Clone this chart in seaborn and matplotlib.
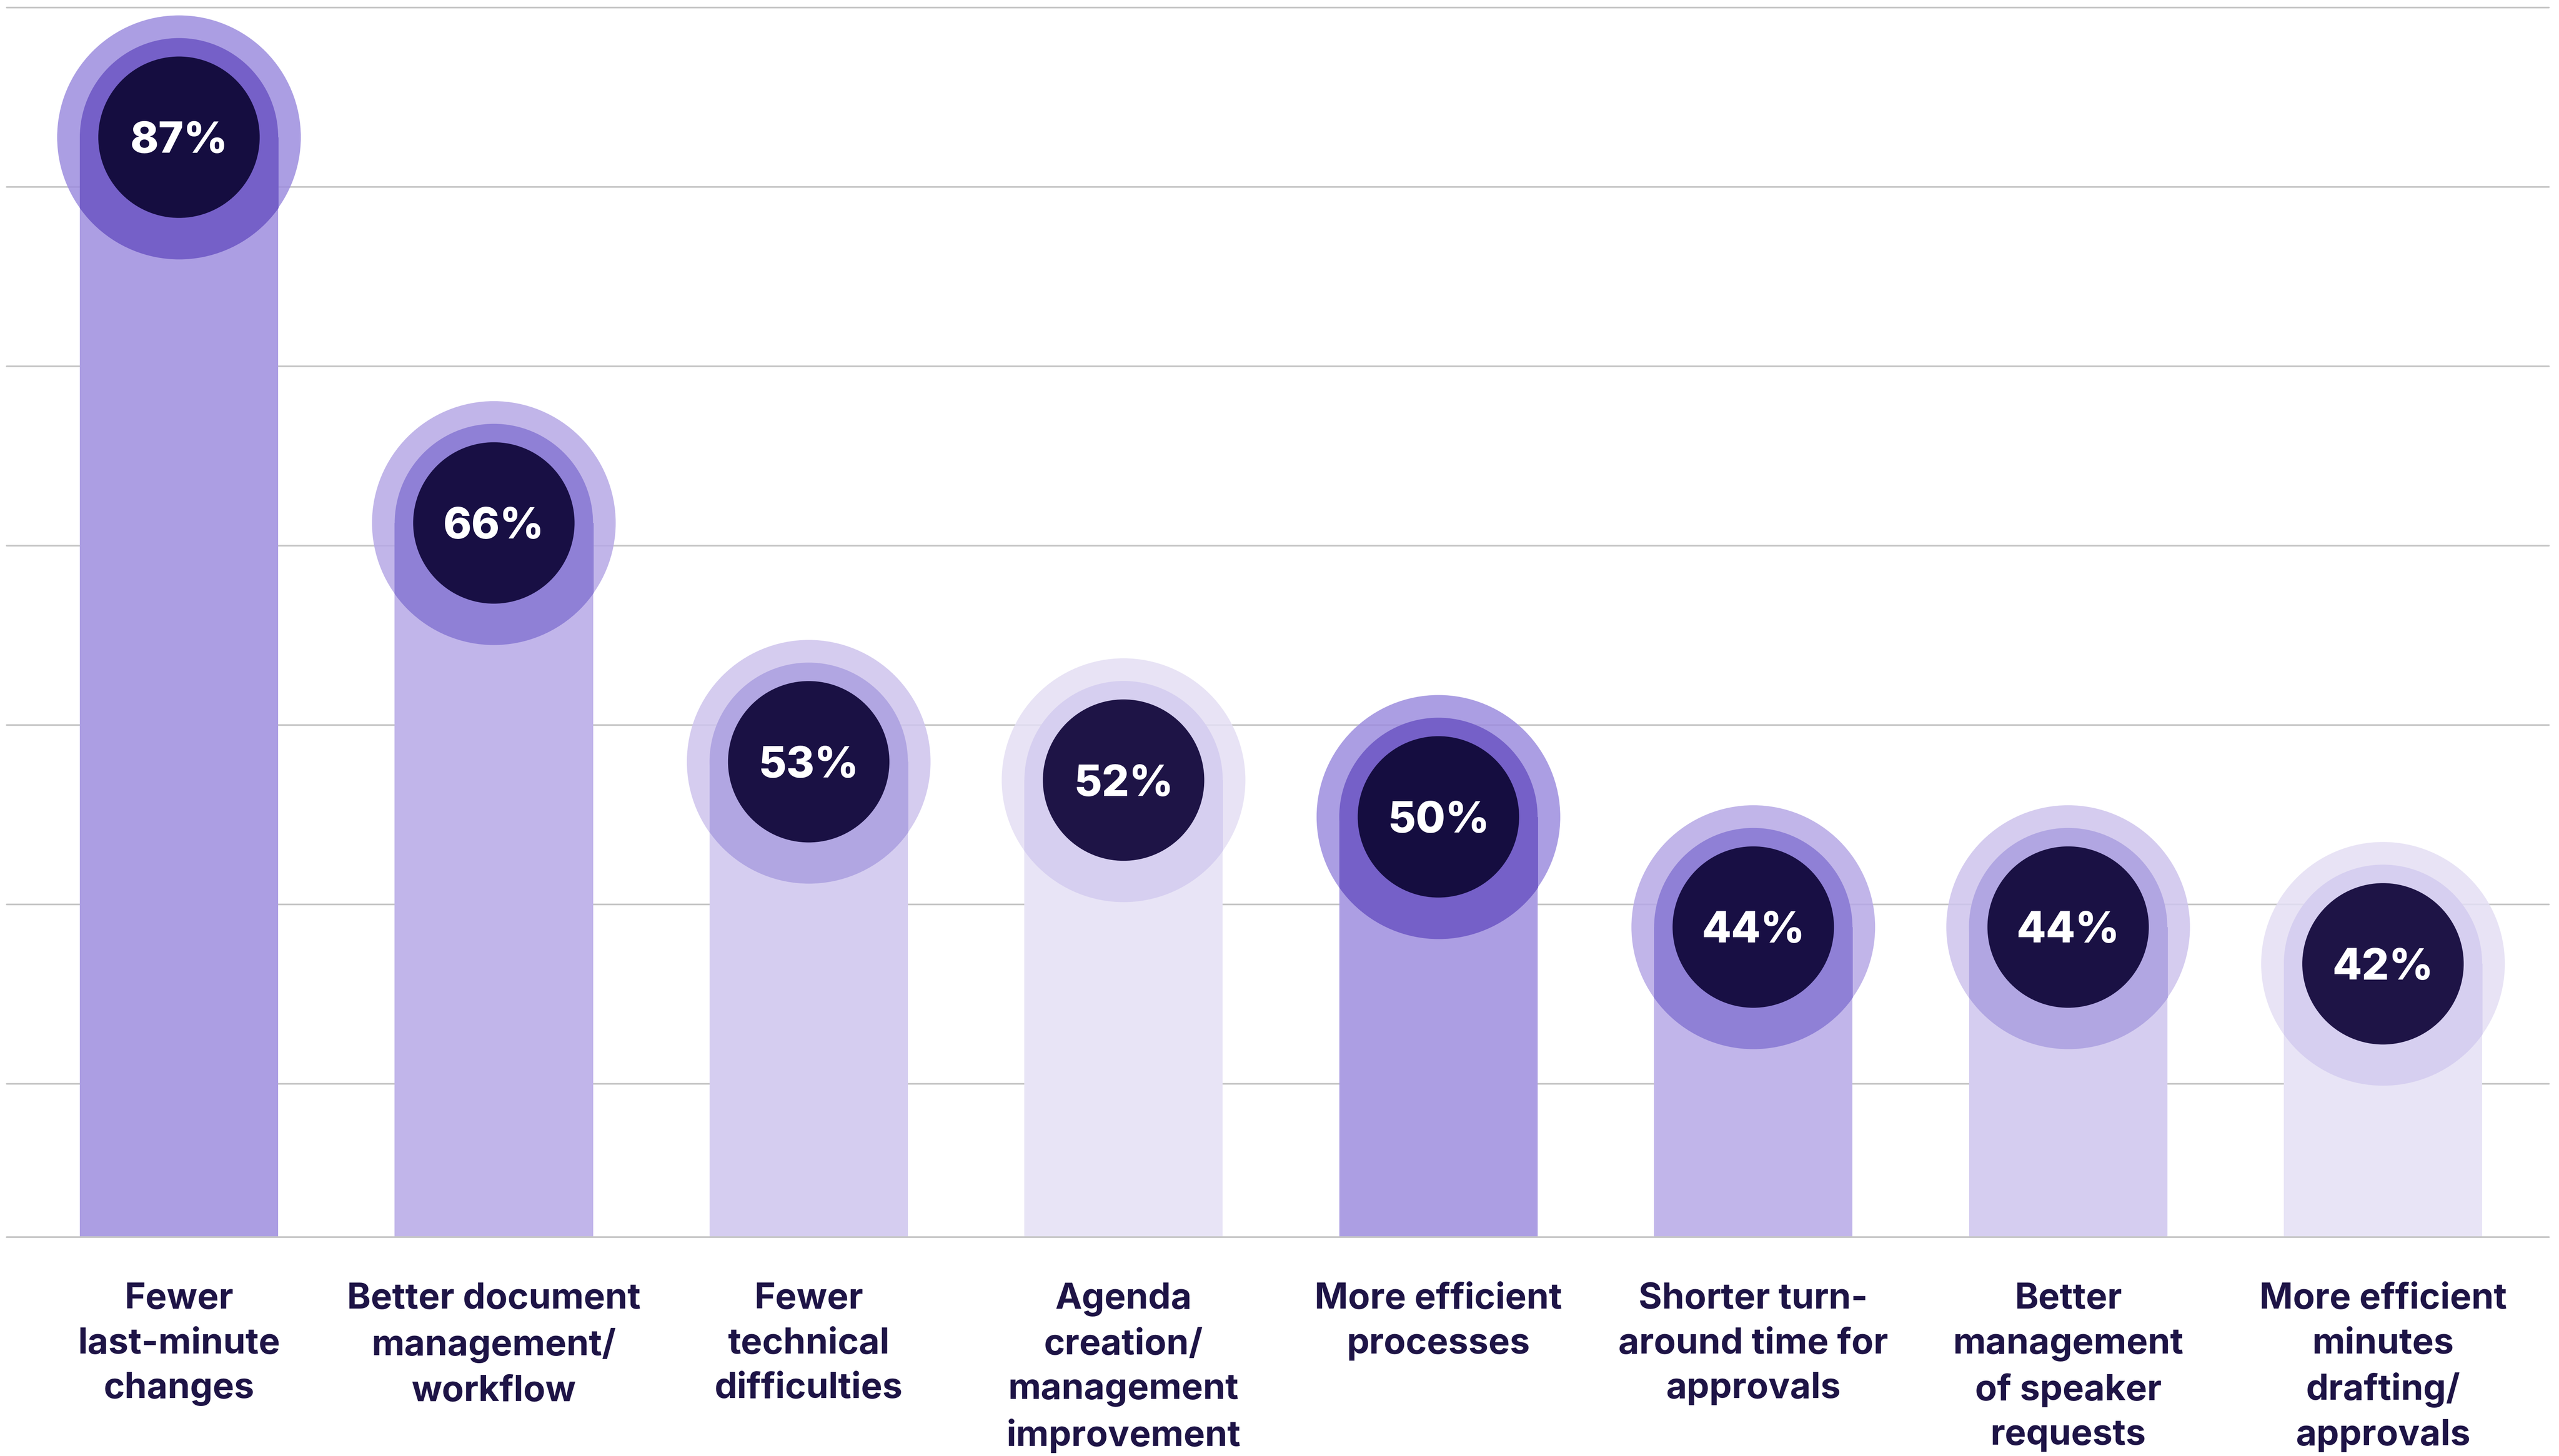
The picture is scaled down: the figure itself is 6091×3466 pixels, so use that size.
import numpy as np
import pandas as pd
import matplotlib
matplotlib.use("Agg")
import matplotlib.pyplot as plt
from matplotlib import colors as mcolors
import seaborn as sns

# ---- data -------------------------------------------------------------
categories = [
    "Fewer\nlast-minute\nchanges",
    "Better document\nmanagement/\nworkflow",
    "Fewer\ntechnical\ndifficulties",
    "Agenda\ncreation/\nmanagement\nimprovement",
    "More efficient\nprocesses",
    "Shorter turn-\naround time for\napprovals",
    "Better\nmanagement\nof speaker\nrequests",
    "More efficient\nminutes\ndrafting/\napprovals",
]
values = [87, 66, 53, 52, 50, 44, 44, 42]

# value axis window and reference lines (percent)
y_window = (27.12, 94.47)
grid_levels = [35.47, 45.23, 55.0, 64.76, 74.52, 84.29, 94.05]

# four shade families, repeated across the eight bars
bar_colors = ["#ac9ee3", "#c1b5ea", "#d5cdf0", "#e8e4f6"] * 2
ring_colors = ["#7560c8", "#8f80d6", "#b1a6e2", "#d6cff0"] * 2
core_colors = ["#150d40", "#180f44", "#1a1144", "#1e1446"] * 2

NAVY = "#1e1446"
GRID = "#c6c6c6"

# ---- style --------------------------------------------------------------
sns.set_style("white")
plt.rcParams["font.family"] = ["Inter", "DejaVu Sans"]

W, H, DPI = 6091, 3466, 300
fig = plt.figure(figsize=(W / DPI, H / DPI), dpi=DPI)
ax = fig.add_axes([0, 1 - 2945 / H, 1, 2945 / H])

df = pd.DataFrame({"category": categories, "value": values})
pos = np.arange(len(categories))


def tinted(hex_color, alpha):
    """Colour that, laid over white with the given alpha, shows hex_color."""
    rgb = np.array(mcolors.to_rgb(hex_color))
    return tuple(np.clip((rgb - (1 - alpha)) / alpha, 0, 1))


# horizontal reference lines
for g in grid_levels:
    ax.axhline(g, xmin=0.0026, xmax=0.996, color=GRID, lw=0.95, zorder=1)

# bars
sns.barplot(data=df, x="category", y="value", hue="category",
            palette=bar_colors, width=0.63, legend=False,
            saturation=1, ax=ax, zorder=3, linewidth=0)

# marker diameters in points (outer halo, bar-wide cap, inner core)
d_outer, d_ring, d_core = 139.2, 113.3, 92.2

# translucent halo behind the bar top
halo_alpha = 0.85
sns.scatterplot(x=pos, y=values, hue=pos,
                palette=[tinted(c, halo_alpha) for c in bar_colors],
                s=d_outer ** 2, alpha=halo_alpha, linewidth=0,
                legend=False, ax=ax, zorder=2)

# halo overlapping the bar body takes the darker ring shade
bars = sorted(ax.patches, key=lambda p: p.get_x())
for i, (bar, v) in enumerate(zip(bars, values)):
    sc = ax.scatter([i], [v], s=d_outer ** 2, color=ring_colors[i],
                    linewidths=0, zorder=4)
    sc.set_clip_path(bar)

# rounded cap the width of the bar
sns.scatterplot(x=pos, y=values, hue=pos, palette=ring_colors,
                s=d_ring ** 2, linewidth=0, legend=False, ax=ax, zorder=5)

# dark core with the value
sns.scatterplot(x=pos, y=values, hue=pos, palette=core_colors,
                s=d_core ** 2, linewidth=0, legend=False, ax=ax, zorder=6)

for i, v in enumerate(values):
    ax.text(i, v, f"{v}%", ha="center", va="center_baseline",
            color="white", fontsize=24.5, fontweight="heavy", zorder=7)

# baseline
ax.axhline(y_window[0], xmin=0.0026, xmax=0.996, color=GRID, lw=1.0,
           zorder=8, clip_on=False)

ax.set_xlim(-0.5685, 7.559)
ax.set_ylim(*y_window)

ax.set_xticks(pos)
ax.set_xticklabels(categories, fontsize=20.5, fontweight="bold",
                   color=NAVY, linespacing=1.44)
ax.tick_params(axis="x", length=0, pad=26)
ax.set_yticks([])
ax.set_xlabel("")
ax.set_ylabel("")
for s in ax.spines.values():
    s.set_visible(False)
ax.grid(False)

fig.savefig("out.png", dpi=DPI, facecolor="white")
